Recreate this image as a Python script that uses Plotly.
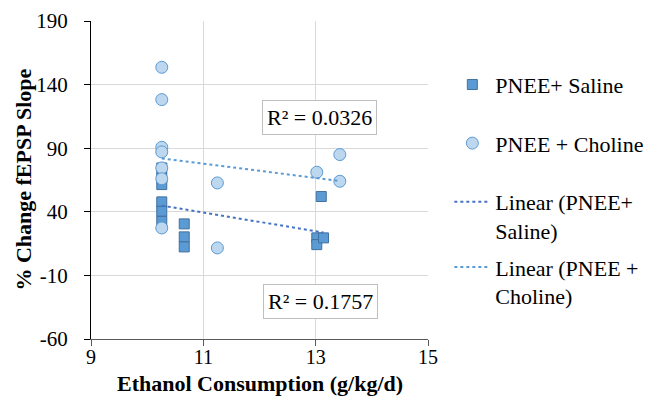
import numpy as np
import plotly.graph_objects as go

# ---- data ----
saline_x = [10.26, 10.26, 10.26, 10.26, 10.26, 10.26, 10.66, 10.66, 10.66, 13.10, 13.02, 13.02, 13.14]
saline_y = [74.5, 66.6, 61.4, 47.8, 40.4, 32.5, 30.5, 20.3, 12.4, 52.0, 19.5, 14.2, 19.5]

choline_x = [10.26, 10.26, 10.26, 10.26, 10.26, 10.26, 10.26, 11.25, 11.25, 13.02, 13.43, 13.43]
choline_y = [153.6, 128.2, 90.7, 87.1, 74.5, 66.0, 27.3, 62.7, 11.6, 71.1, 85.0, 64.0]

series_names = ["PNEE+ Saline", "PNEE + Choline"]
trend_names = ["Linear (PNEE+<br>Saline)", "Linear (PNEE +<br>Choline)"]
r2_labels = ["R² = 0.1757", "R² = 0.0326"]

x_ticks = [9, 11, 13, 15]
y_ticks = [-60, -10, 40, 90, 140, 190]

FONT = "Liberation Serif"


def trend(xs, ys):
    xs = np.asarray(xs, float)
    ys = np.asarray(ys, float)
    m, b = np.polyfit(xs, ys, 1)
    xx = np.array([xs.min(), xs.max()])
    return xx, m * xx + b


fig = go.Figure()

fig.add_trace(go.Scatter(
    x=saline_x, y=saline_y, mode="markers", name=series_names[0],
    legendgroup="a", legend="legend",
    marker=dict(symbol="square", size=10, color="#5B9BD5",
                line=dict(color="#41719C", width=1)),
))
fig.add_trace(go.Scatter(
    x=choline_x, y=choline_y, mode="markers", name=series_names[1],
    legendgroup="b", legend="legend",
    marker=dict(symbol="circle", size=12, color="#BDD7EE",
                line=dict(color="#5B9BD5", width=1)),
))

tx, ty = trend(saline_x, saline_y)
fig.add_trace(go.Scatter(
    x=tx, y=ty, mode="lines", name=trend_names[0], legendgroup="c", legend="legend2",
    line=dict(color="#4472C4", width=2, dash="dot"),
))
tx, ty = trend(choline_x, choline_y)
fig.add_trace(go.Scatter(
    x=tx, y=ty, mode="lines", name=trend_names[1], legendgroup="d", legend="legend2",
    line=dict(color="#5B9BD5", width=2, dash="dot"),
))

annots = [
    dict(x=13.07, y=114.4, xref="x", yref="y", text=r2_labels[1]),
    dict(x=13.09, y=-30.2, xref="x", yref="y", text=r2_labels[0]),
]
for a in annots:
    a.update(showarrow=False, font=dict(family=FONT, size=22, color="black"),
             bgcolor="white", bordercolor="#BFBFBF", borderwidth=1, borderpad=4)

annots.append(dict(
    text="<b>% Change fEPSP Slope</b>", textangle=-90, showarrow=False,
    xref="paper", yref="paper", x=-0.203, y=0.5, xanchor="center", yanchor="middle",
    font=dict(family=FONT, size=22, color="black"),
))
annots.append(dict(
    text="<b>Ethanol Consumption (g/kg/d)</b>", showarrow=False,
    xref="paper", yref="paper", x=0.5, y=-0.14, xanchor="center", yanchor="middle",
    font=dict(family=FONT, size=22, color="black"),
))

legend_common = dict(
    xref="container", yref="container", xanchor="left", yanchor="top",
    font=dict(family=FONT, size=22, color="black"),
    itemwidth=36, bgcolor="rgba(0,0,0,0)", valign="top",
)

# The page body adds an 8px offset, so the figure is 8px smaller and margins shifted.
fig.update_layout(
    width=644, height=402,
    margin=dict(l=83, r=224, t=13, b=71, autoexpand=False),
    plot_bgcolor="white", paper_bgcolor="white",
    font=dict(family=FONT, size=21, color="black"),
    annotations=annots,
    showlegend=True,
    legend=dict(x=0.6853, y=0.8614, tracegroupgap=27, **legend_common),
    legend2=dict(x=0.6853, y=0.5697, tracegroupgap=5, **legend_common),
)
fig.update_xaxes(
    range=[9, 15], tickvals=x_ticks, ticktext=[str(v) for v in x_ticks],
    showgrid=True, gridcolor="#D9D9D9", gridwidth=1, zeroline=False,
    showline=True, linecolor="#595959", linewidth=1,
    ticks="outside", ticklen=6, tickcolor="#595959",
    tickfont=dict(family=FONT, size=20, color="black"),
    ticklabelstandoff=-6, automargin=False,
)
fig.update_yaxes(
    range=[-60, 190], tickvals=y_ticks, ticktext=[str(v) for v in y_ticks],
    showgrid=True, gridcolor="#D9D9D9", gridwidth=1, zeroline=False,
    showline=True, linecolor="black", linewidth=1,
    ticks="outside", ticklen=6, tickcolor="black",
    tickfont=dict(family=FONT, size=21, color="black"),
    ticklabelstandoff=12, automargin=False,
)

fig.write_html("out.html")
